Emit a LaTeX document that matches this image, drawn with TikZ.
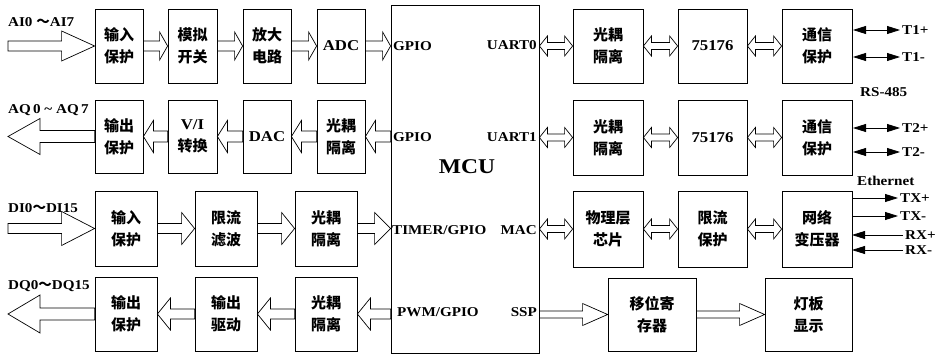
\documentclass[tikz,border=0pt]{standalone}
\usepackage{fontspec}
\setmainfont{Liberation Serif}[FakeStretch=1.12]
\newfontfamily\cjk{Noto Sans CJK SC}
\usetikzlibrary{calc,arrows.meta}
\newcommand\boxfnt{\fontsize{15}{22}\selectfont\bfseries\cjk}
\newcommand\lblfnt{\fontsize{13.5}{15}\selectfont\bfseries\rmfamily}
\tikzset{
  box/.style={draw, line width=0.8pt, inner sep=0pt, align=center, font=\boxfnt},
  lbl/.style={font=\lblfnt, inner sep=0pt},
  blk/.style n args={3}{line width=0.7pt, to path={
    let \p1=(\tikztostart), \p2=(\tikztotarget), \n1={ifthenelse(\x2>\x1,1,-1)} in
    (\x1,\y1+#1) -- (\x2-\n1*#3,\y1+#1) -- (\x2-\n1*#3,\y1+#2) -- (\x2,\y1)
    -- (\x2-\n1*#3,\y1-#2) -- (\x2-\n1*#3,\y1-#1) -- (\x1,\y1-#1) -- cycle}},
  dblk/.style n args={3}{line width=0.7pt, to path={
    let \p1=(\tikztostart), \p2=(\tikztotarget), \n1={ifthenelse(\x2>\x1,1,-1)} in
    (\x1,\y1) -- (\x1+\n1*#3,\y1+#2) -- (\x1+\n1*#3,\y1+#1) -- (\x2-\n1*#3,\y1+#1)
    -- (\x2-\n1*#3,\y1+#2) -- (\x2,\y1) -- (\x2-\n1*#3,\y1-#2) -- (\x2-\n1*#3,\y1-#1)
    -- (\x1+\n1*#3,\y1-#1) -- (\x1+\n1*#3,\y1-#2) -- cycle}},
  thin/.style={line width=0.8pt, >={Triangle[length=13pt,width=8pt]}},
}
\begin{document}
\begin{tikzpicture}[x=1pt,y=-1pt]
\useasboundingbox (0,0) rectangle (942,355);
% MCU
\node[draw, line width=0.8pt, minimum width=148, minimum height=348, inner sep=0pt] (mcu) at (465,179) {};
\node[lbl, font=\fontsize{21}{23}\selectfont\bfseries] (mcut) at (467,167) {MCU};
% row 1
\node[box, minimum width=48, minimum height=74] (a1) at (119,46) {输入\\保护};
\node[box, minimum width=49, minimum height=74] (a2) at (192.5,46) {模拟\\开关};
\node[box, minimum width=48, minimum height=74] (a3) at (267,46) {放大\\电路};
\node[box, minimum width=48, minimum height=74] (a4) at (341,46) {\rmfamily ADC};
% row 2
\node[box, minimum width=48, minimum height=73] (b1) at (119,136.5) {输出\\保护};
\node[box, minimum width=49, minimum height=73] (b2) at (192.5,136.5) {{\rmfamily V/I}\\转换};
\node[box, minimum width=48, minimum height=73] (b3) at (267,136.5) {\rmfamily DAC};
\node[box, minimum width=48, minimum height=73] (b4) at (341,136.5) {光耦\\隔离};
% row 3
\node[box, minimum width=62, minimum height=75] (c1) at (126,228.5) {输入\\保护};
\node[box, minimum width=62, minimum height=75] (c2) at (226,228.5) {限流\\滤波};
\node[box, minimum width=62, minimum height=75] (c3) at (326,228.5) {光耦\\隔离};
% row 4
\node[box, minimum width=62, minimum height=74] (d1) at (126,314) {输出\\保护};
\node[box, minimum width=62, minimum height=74] (d2) at (226,314) {输出\\驱动};
\node[box, minimum width=62, minimum height=74] (d3) at (326,314) {光耦\\隔离};
% right rows
\node[box, minimum width=70, minimum height=74] (p1) at (608,46) {光耦\\隔离};
\node[box, minimum width=69, minimum height=74] (p2) at (712.5,46) {\rmfamily 75176};
\node[box, minimum width=70, minimum height=74] (p3) at (817,46) {通信\\保护};
\node[box, minimum width=70, minimum height=75] (q1) at (608,137.5) {光耦\\隔离};
\node[box, minimum width=69, minimum height=75] (q2) at (712.5,137.5) {\rmfamily 75176};
\node[box, minimum width=70, minimum height=75] (q3) at (817,137.5) {通信\\保护};
\node[box, minimum width=70, minimum height=76] (r1) at (608,229) {物理层\\芯片};
\node[box, minimum width=69, minimum height=76] (r2) at (712.5,229) {限流\\保护};
\node[box, minimum width=70, minimum height=76] (r3) at (817,229) {网络\\变压器};
\node[box, minimum width=88, minimum height=73] (s1) at (652,314.5) {移位寄\\存器};
\node[box, minimum width=87, minimum height=73] (s2) at (808.5,314.5) {灯板\\显示};
% free ends and MCU ports
\coordinate (ai) at (8,46);
\coordinate (aq) at (8,136.5);
\coordinate (di) at (8,228.5);
\coordinate (dq) at (8,314);
\coordinate (mg1) at (mcu.west |- a4.east);
\coordinate (mg2) at (mcu.west |- b4.east);
\coordinate (mg3) at (mcu.west |- c3.east);
\coordinate (mg4) at (mcu.west |- d3.east);
\coordinate (mr1) at (mcu.east |- p1.west);
\coordinate (mr2) at (mcu.east |- q1.west);
\coordinate (mr3) at (mcu.east |- r1.west);
\coordinate (mr4) at (mcu.east |- s1.west);
% hollow arrows
\draw[blk={5}{15}{33}] (ai) to (a1.west);
\draw[blk={5}{14}{8}] (a1.east) to (a2.west);
\draw[blk={5}{14}{8}] (a2.east) to (a3.west);
\draw[blk={5}{14}{8}] (a3.east) to (a4.west);
\draw[blk={5}{14}{8}] (a4.east) to (mg1);
\draw[blk={5.5}{16}{10}] (mg2) to (b4.east);
\draw[blk={5.5}{16}{10}] (b4.west) to (b3.east);
\draw[blk={5.5}{16}{10}] (b3.west) to (b2.east);
\draw[blk={5.5}{16}{10}] (b2.west) to (b1.east);
\draw[blk={6}{18}{32}] (b1.west) to (aq);
\draw[blk={5}{17}{33}] (di) to (c1.west);
\draw[blk={5}{16}{13}] (c1.east) to (c2.west);
\draw[blk={5}{16}{13}] (c2.east) to (c3.west);
\draw[blk={5}{16}{16}] (c3.east) to (mg3);
\draw[blk={5}{16}{13}] (mg4) to (d3.east);
\draw[blk={5}{16}{13}] (d3.west) to (d2.east);
\draw[blk={5}{16}{13}] (d2.west) to (d1.east);
\draw[blk={6}{19}{32}] (d1.west) to (dq);
\draw[dblk={3.5}{10}{8}] (mr1) to (p1.west);
\draw[dblk={3.5}{10}{8}] (p1.east) to (p2.west);
\draw[dblk={3.5}{10}{8}] (p2.east) to (p3.west);
\draw[dblk={3.5}{10}{8}] (mr2) to (q1.west);
\draw[dblk={3.5}{10}{8}] (q1.east) to (q2.west);
\draw[dblk={3.5}{10}{8}] (q2.east) to (q3.west);
\draw[dblk={3.5}{10}{8}] (mr3) to (r1.west);
\draw[dblk={3.5}{10}{8}] (r1.east) to (r2.west);
\draw[dblk={3.5}{10}{8}] (r2.east) to (r3.west);
\draw[blk={3.5}{11}{25}] (mr4) to (s1.west);
\draw[blk={3.5}{11}{25}] (s1.east) to (s2.west);
% thin arrows
\coordinate (t1pa) at (853,30);  \coordinate (t1pb) at (900,30);
\coordinate (t1ma) at (853,57);  \coordinate (t1mb) at (900,57);
\coordinate (t2pa) at (853,128); \coordinate (t2pb) at (900,128);
\coordinate (t2ma) at (853,152); \coordinate (t2mb) at (900,152);
\coordinate (txpa) at (852,198); \coordinate (txpb) at (898,198);
\coordinate (txma) at (852,216); \coordinate (txmb) at (898,216);
\coordinate (rxpa) at (852,235); \coordinate (rxpb) at (903,235);
\coordinate (rxma) at (852,250); \coordinate (rxmb) at (903,250);
\draw[thin,<->] (t1pa) -- (t1pb);
\draw[thin,<->] (t1ma) -- (t1mb);
\draw[thin,<->] (t2pa) -- (t2pb);
\draw[thin,<->] (t2ma) -- (t2mb);
\draw[thin,->] (txpa) -- (txpb);
\draw[thin,->] (txma) -- (txmb);
\draw[thin,->] (rxpb) -- (rxpa);
\draw[thin,->] (rxmb) -- (rxma);
% labels
\node[lbl, anchor=west] (lai) at (8,22) {AI0 {\cjk ～}AI7};
\node[lbl, anchor=west] (laq) at (8,110) {AQ\,0 \textasciitilde{} AQ\,7};
\node[lbl, anchor=west] (ldi) at (8,208) {DI0{\cjk ～}DI15};
\node[lbl, anchor=west] (ldq) at (8,286) {DQ0{\cjk ～}DQ15};
\node[lbl, anchor=west] (lg1) at (393,46) {GPIO};
\node[lbl, anchor=west] (lg2) at (393,137) {GPIO};
\node[lbl, anchor=west] (lg3) at (392,230) {TIMER/GPIO};
\node[lbl, anchor=west] (lg4) at (397,312) {PWM/GPIO};
\node[lbl, anchor=east] (lu0) at (537,45) {UART0};
\node[lbl, anchor=east] (lu1) at (537,137) {UART1};
\node[lbl, anchor=east] (lmac) at (537,230) {MAC};
\node[lbl, anchor=east] (lssp) at (537,312) {SSP};
\node[lbl, anchor=west] (lt1p) at (902,30) {T1+};
\node[lbl, anchor=west] (lt1m) at (902,57) {T1-};
\node[lbl, anchor=west] (lrs) at (860,92) {RS-485};
\node[lbl, anchor=west] (lt2p) at (902,128) {T2+};
\node[lbl, anchor=west] (lt2m) at (902,152) {T2-};
\node[lbl, anchor=west] (leth) at (857,181) {Ethernet};
\node[lbl, anchor=west] (ltxp) at (900,198) {TX+};
\node[lbl, anchor=west] (ltxm) at (900,216) {TX-};
\node[lbl, anchor=west] (lrxp) at (905,235) {RX+};
\node[lbl, anchor=west] (lrxm) at (905,250) {RX-};
\end{tikzpicture}
\end{document}
